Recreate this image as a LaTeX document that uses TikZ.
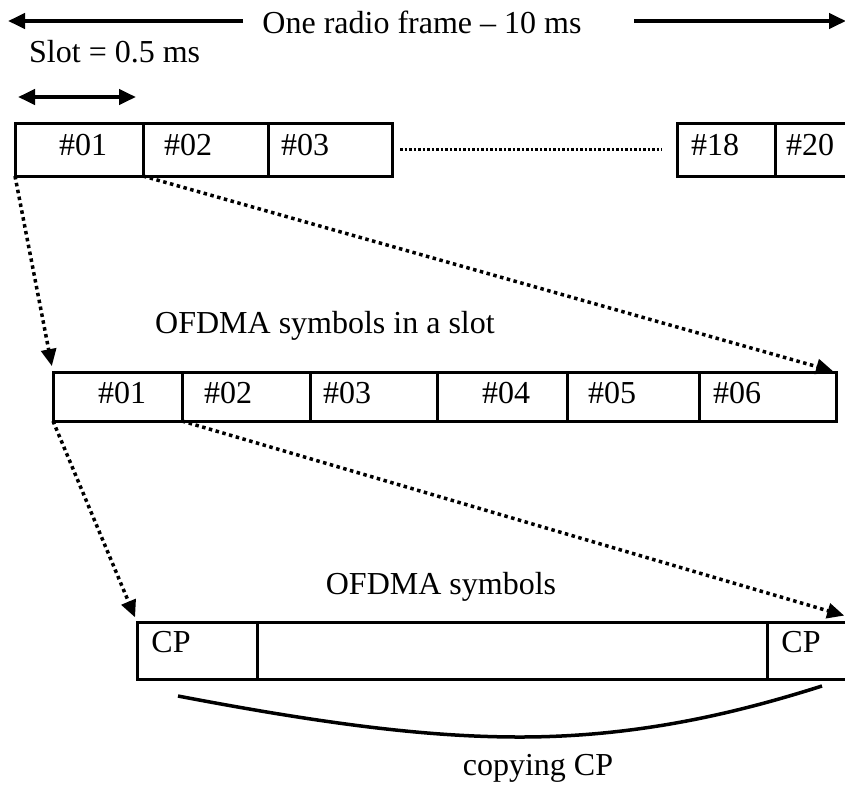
\documentclass[tikz,border=0pt]{standalone}
\usepackage{fontspec}
\setmainfont{Liberation Serif}
\usetikzlibrary{arrows.meta}

\tikzset{
  box/.style={draw, line width=3pt, inner sep=0pt, outer sep=0pt, anchor=north west},
  lbl/.style={inner sep=0pt, anchor=base, font=\fontsize{32}{38}\selectfont},
  span/.style={line width=4pt, -{Triangle[length=17pt,width=15pt]}},
  spantwo/.style={line width=4pt, {Triangle[length=17pt,width=15pt]}-{Triangle[length=17pt,width=15pt]}},
  zoomline/.style={line width=3.5pt, dash pattern=on 3.5pt off 3.5pt,
                   -{Triangle[length=17pt,width=15pt]}},
  gapdots/.style={line width=2.5pt, dash pattern=on 2.5pt off 2pt},
}

\begin{document}
\begin{tikzpicture}[x=1pt, y=-1pt]
\useasboundingbox (0,0) rectangle (845,785);

% frame length
\node[lbl] (title) at (422,33) {One radio frame -- 10 ms};
\coordinate (fA) at (243,21);
\coordinate (fL) at (8,21);
\coordinate (fB) at (634,21);
\coordinate (fR) at (846,21);
\draw[span] (fA) -- (fL);
\draw[span] (fB) -- (fR);

% slot length
\node[lbl, anchor=base west] (slot) at (29,62) {Slot = 0.5 ms};
\coordinate (sL) at (18,97);
\coordinate (sR) at (136,97);
\draw[spantwo] (sL) -- (sR);

% slots of the radio frame
\node[box, minimum width=128pt, minimum height=53pt] (t1) at (15,123) {};
\node[box, minimum width=125pt, minimum height=53pt] (t2) at (143,123) {};
\node[box, minimum width=124pt, minimum height=53pt] (t3) at (268,123) {};
\node[box, minimum width=98pt, minimum height=53pt] (t18) at (677,123) {};
\node[box, minimum width=74pt, minimum height=53pt] (t20) at (775,123) {};
\node[lbl] at (83,155) {\#01};
\node[lbl] at (188,155) {\#02};
\node[lbl] at (305,155) {\#03};
\node[lbl] at (715,155) {\#18};
\node[lbl] at (810,155) {\#20};
\draw[gapdots] ([xshift=8pt]t3.east) -- ([xshift=-15pt]t18.west);

% symbols in a slot
\node[lbl, anchor=base west] (slotcap) at (155,333) {OFDMA symbols in a slot};
\node[box, minimum width=129pt, minimum height=49pt] (m1) at (53,372) {};
\node[box, minimum width=128pt, minimum height=49pt] (m2) at (182,372) {};
\node[box, minimum width=127pt, minimum height=49pt] (m3) at (310,372) {};
\node[box, minimum width=130pt, minimum height=49pt] (m4) at (437,372) {};
\node[box, minimum width=132pt, minimum height=49pt] (m5) at (567,372) {};
\node[box, minimum width=137pt, minimum height=49pt] (m6) at (699,372) {};
\node[lbl] at (122,403) {\#01};
\node[lbl] at (228,403) {\#02};
\node[lbl] at (347,403) {\#03};
\node[lbl] at (506,403) {\#04};
\node[lbl] at (612,403) {\#05};
\node[lbl] at (737,403) {\#06};

\draw[zoomline, shorten >=6pt] (t1.south west) -- (m1.north west);
\draw[zoomline, shorten >=3pt] (t1.south east) -- (m6.north east);

% one symbol with its cyclic prefix
\node[lbl] (symcap) at (441,594) {OFDMA symbols};
\node[box, minimum width=120pt, minimum height=57pt] (c1) at (137,622) {};
\node[box, minimum width=510pt, minimum height=57pt] (c2) at (257,622) {};
\node[box, minimum width=82pt, minimum height=57pt] (c3) at (767,622) {};
\node[lbl] at (171,652) {CP};
\node[lbl] at (801,652) {CP};
\coordinate (cR) at (849,617);

\draw[zoomline, shorten >=5pt] (m1.south west) -- (c1.north west);
\draw[zoomline, shorten >=5pt] (m1.south east) -- (cR);

% copy of the prefix
\draw[line width=3.5pt] (178,696) .. controls (330,725) and (430,737) .. (520,737)
      .. controls (640,737) and (740,712) .. (822,686);
\node[lbl] (copycap) at (538,775) {copying CP};
\end{tikzpicture}
\end{document}
